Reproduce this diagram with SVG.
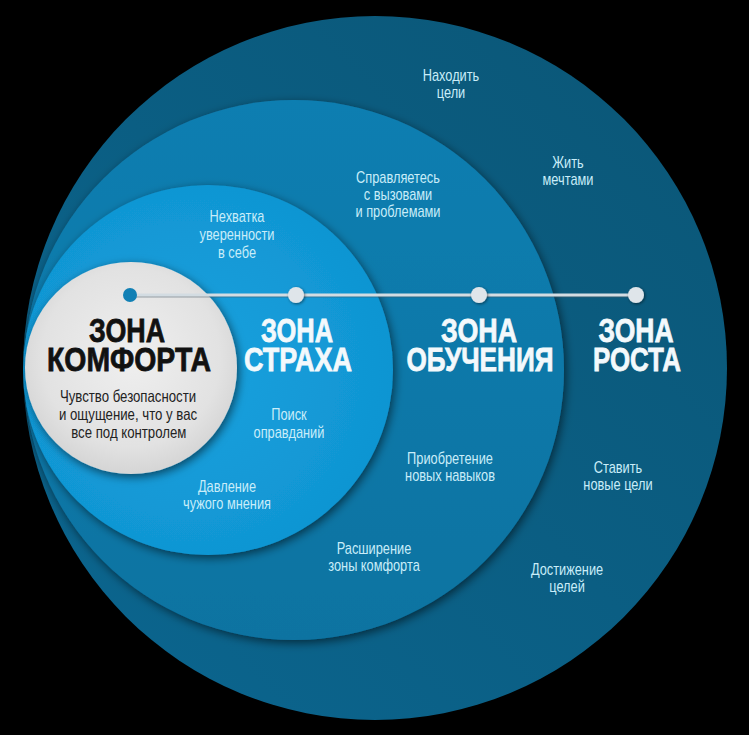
<svg xmlns="http://www.w3.org/2000/svg" width="749" height="735" viewBox="0 0 749 735">
  <defs>
    <linearGradient id="gGrowth" x1="1" y1="0" x2="0" y2="1">
      <stop offset="0" stop-color="#0b5676"/>
      <stop offset="1" stop-color="#0b6690"/>
    </linearGradient>
    <linearGradient id="gLearn" x1="0" y1="0" x2="0" y2="1">
      <stop offset="0" stop-color="#117eb1"/>
      <stop offset="1" stop-color="#0d73a1"/>
    </linearGradient>
    <radialGradient id="gFear" cx="0.45" cy="0.5" r="0.6">
      <stop offset="0" stop-color="#18a1de"/>
      <stop offset="1" stop-color="#0f94d1"/>
    </radialGradient>
    <radialGradient id="gComfort" cx="0.5" cy="0.45" r="0.6">
      <stop offset="0" stop-color="#efefef"/>
      <stop offset="0.7" stop-color="#e2e2e2"/>
      <stop offset="1" stop-color="#d0d0d0"/>
    </radialGradient>
    <filter id="shadow" x="-20%" y="-20%" width="140%" height="140%">
      <feDropShadow dx="2" dy="3" stdDeviation="5" flood-color="#000" flood-opacity="0.55"/>
    </filter>
    <filter id="dotShadow" x="-50%" y="-50%" width="200%" height="200%">
      <feDropShadow dx="1" dy="1" stdDeviation="1.5" flood-color="#000" flood-opacity="0.5"/>
    </filter>
  </defs>
  <style>
    .title { font-family: "Liberation Sans", Arial, sans-serif; font-weight: bold; font-size: 34px; text-anchor: middle; stroke-width: 0.8px; }
    .light { fill: #f3f9fc; stroke: #f3f9fc; }
    .dark { fill: #111111; stroke: #111111; }
    .note { font-family: "Liberation Sans", Arial, sans-serif; font-size: 16px; text-anchor: middle; fill: #c9edf9; }
    .sub { font-family: "Liberation Sans", Arial, sans-serif; font-size: 16.5px; text-anchor: middle; fill: #222222; }
    .dot { fill: #dfe5ea; filter: url(#dotShadow); }
  </style>
  <rect x="0" y="0" width="749" height="735" fill="#000000"/>

  <g id="zone-growth">
    <circle cx="375" cy="368" r="352" fill="url(#gGrowth)"/>
  </g>
  <g id="zone-learning">
    <circle cx="294" cy="370" r="270" fill="url(#gLearn)" filter="url(#shadow)"/>
  </g>
  <g id="zone-fear">
    <circle cx="208" cy="370" r="185" fill="url(#gFear)" filter="url(#shadow)"/>
  </g>
  <g id="zone-comfort">
    <circle cx="131" cy="368" r="106" fill="url(#gComfort)" filter="url(#shadow)"/>
  </g>

  <g id="connectors">
    <line x1="130" y1="296" x2="636" y2="296" stroke="#4a5a64" stroke-opacity="0.5" stroke-width="3"/>
    <line x1="130" y1="295" x2="636" y2="295" stroke="#d3dce2" stroke-width="3"/>
    <circle cx="130" cy="295" r="7" fill="#1180b5"/>
    <circle class="dot" cx="296" cy="295" r="8"/>
    <circle class="dot" cx="479" cy="295" r="8"/>
    <circle class="dot" cx="636" cy="295" r="8"/>
  </g>

  <g id="label-comfort">
    <text class="title dark"><tspan x="127" y="342" textLength="76" lengthAdjust="spacingAndGlyphs">ЗОНА</tspan><tspan x="129" y="371" textLength="164" lengthAdjust="spacingAndGlyphs">КОМФОРТА</tspan></text>
    <text class="sub" transform="translate(128 402) scale(0.8 1)"><tspan x="0" y="0">Чувство безопасности</tspan><tspan x="0" y="18">и ощущение, что у вас</tspan><tspan x="1" y="36">все под контролем</tspan></text>
  </g>

  <g id="label-fear">
    <text class="title light"><tspan x="297" y="342" textLength="72" lengthAdjust="spacingAndGlyphs">ЗОНА</tspan><tspan x="298" y="371" textLength="108" lengthAdjust="spacingAndGlyphs">СТРАХА</tspan></text>
    <text class="note" transform="translate(237 222) scale(0.8 1)"><tspan x="0" y="0">Нехватка</tspan><tspan x="0" y="18">уверенности</tspan><tspan x="0" y="36">в себе</tspan></text>
    <text class="note" transform="translate(289 420) scale(0.8 1)"><tspan x="0" y="0">Поиск</tspan><tspan x="0" y="18">оправданий</tspan></text>
    <text class="note" transform="translate(227 492) scale(0.8 1)"><tspan x="0" y="0">Давление</tspan><tspan x="0" y="17">чужого мнения</tspan></text>
  </g>

  <g id="label-learning">
    <text class="title light"><tspan x="479" y="342" textLength="76" lengthAdjust="spacingAndGlyphs">ЗОНА</tspan><tspan x="480" y="371" textLength="147" lengthAdjust="spacingAndGlyphs">ОБУЧЕНИЯ</tspan></text>
    <text class="note" transform="translate(398 183) scale(0.8 1)"><tspan x="0" y="0">Справляетесь</tspan><tspan x="0" y="17">с вызовами</tspan><tspan x="0" y="34">и проблемами</tspan></text>
    <text class="note" transform="translate(450 464) scale(0.8 1)"><tspan x="0" y="0">Приобретение</tspan><tspan x="0" y="17">новых навыков</tspan></text>
    <text class="note" transform="translate(374 554) scale(0.8 1)"><tspan x="0" y="0">Расширение</tspan><tspan x="0" y="17">зоны комфорта</tspan></text>
  </g>

  <g id="label-growth">
    <text class="title light"><tspan x="636" y="342" textLength="75" lengthAdjust="spacingAndGlyphs">ЗОНА</tspan><tspan x="637" y="371" textLength="88" lengthAdjust="spacingAndGlyphs">РОСТА</tspan></text>
    <text class="note" transform="translate(451 81) scale(0.8 1)"><tspan x="0" y="0">Находить</tspan><tspan x="0" y="17">цели</tspan></text>
    <text class="note" transform="translate(568 168) scale(0.8 1)"><tspan x="0" y="0">Жить</tspan><tspan x="0" y="17">мечтами</tspan></text>
    <text class="note" transform="translate(618 473) scale(0.8 1)"><tspan x="0" y="0">Ставить</tspan><tspan x="0" y="17">новые цели</tspan></text>
    <text class="note" transform="translate(567 575) scale(0.8 1)"><tspan x="0" y="0">Достижение</tspan><tspan x="0" y="17">целей</tspan></text>
  </g>
</svg>
